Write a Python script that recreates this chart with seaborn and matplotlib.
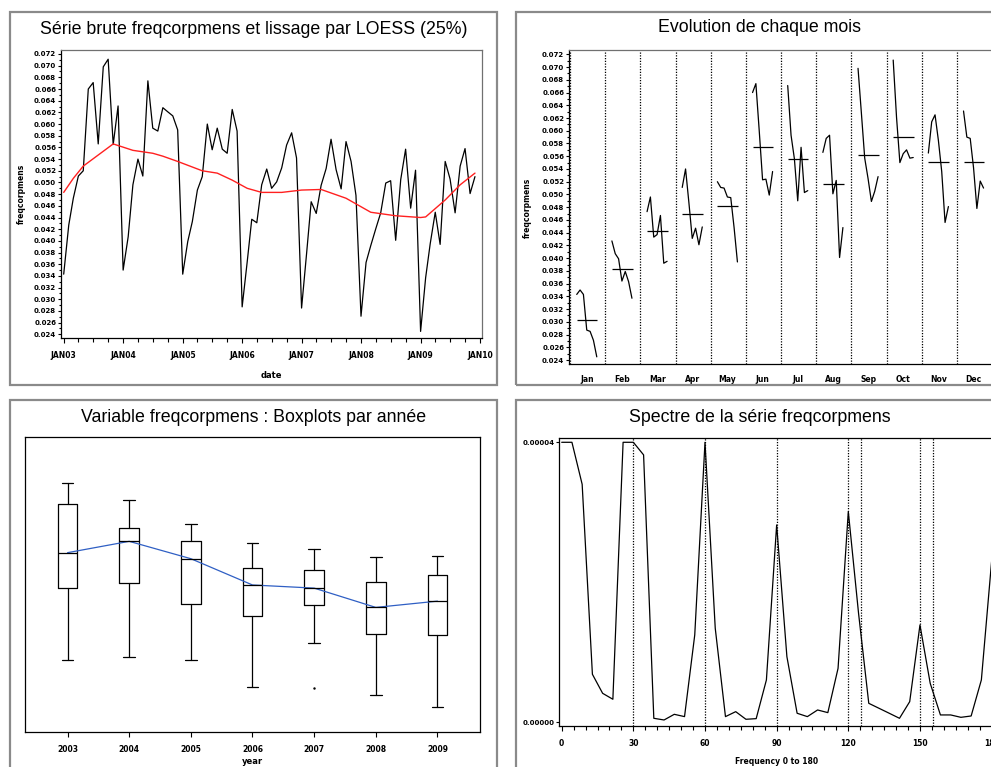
import numpy as np
import pandas as pd
import matplotlib
matplotlib.use('Agg')
import matplotlib.pyplot as plt
import matplotlib.dates as mdates
from matplotlib.patches import Rectangle
from matplotlib.ticker import MultipleLocator, FuncFormatter
import seaborn as sns

# ---- donnees ----
years = [2003, 2004, 2005, 2006, 2007, 2008, 2009]
month_names = ['Jan', 'Feb', 'Mar', 'Apr', 'May', 'Jun',
               'Jul', 'Aug', 'Sep', 'Oct', 'Nov', 'Dec']
v2003 = [0.0343, 0.0427, 0.0473, 0.0511, 0.0520, 0.0660, 0.0671, 0.0566, 0.0698, 0.0711, 0.0565, 0.0631]
v2004 = [0.0350, 0.0407, 0.0496, 0.0540, 0.0511, 0.0674, 0.0593, 0.0588, 0.0628, 0.0621, 0.0614, 0.0590]
v2005 = [0.0343, 0.0399, 0.0433, 0.0487, 0.0510, 0.0600, 0.0556, 0.0593, 0.0557, 0.0550, 0.0625, 0.0588]
v2006 = [0.0287, 0.0364, 0.0437, 0.0431, 0.0496, 0.0523, 0.0490, 0.0501, 0.0525, 0.0564, 0.0585, 0.0542]
v2007 = [0.0285, 0.0379, 0.0467, 0.0447, 0.0495, 0.0524, 0.0574, 0.0522, 0.0489, 0.0570, 0.0536, 0.0478]
v2008 = [0.0271, 0.0363, 0.0392, 0.0421, 0.0448, 0.0499, 0.0503, 0.0401, 0.0505, 0.0557, 0.0456, 0.0521]
v2009 = [0.0245, 0.0337, 0.0395, 0.0449, 0.0394, 0.0536, 0.0506, 0.0448, 0.0528, 0.0558, 0.0481, 0.0510]

# lissage LOESS (25%) : mois (0 = JAN03) et valeur
loess_months = [0, 2, 4, 10, 14, 18, 20, 23, 28, 31, 34, 37, 40, 44, 48, 52, 57, 62, 67, 72, 73, 77, 80, 83]
loess_values = [0.0483, 0.0507, 0.0528, 0.0566, 0.0555, 0.0550, 0.0545, 0.0536, 0.0520, 0.0516,
                0.0504, 0.0490, 0.0483, 0.0483, 0.0487, 0.0488, 0.0473, 0.0449, 0.0443, 0.0440,
                0.0441, 0.0470, 0.0496, 0.0516]

# spectre (frequence 0 a 180)
spec_freq = [0, 4.29, 8.57, 12.86, 17.14, 21.43, 25.71, 30, 34.29, 38.57, 42.86, 47.14, 51.43,
             55.71, 60, 64.29, 68.57, 72.86, 77.14, 81.43, 85.71, 90, 94.29, 98.57, 102.86,
             107.14, 111.43, 115.71, 120, 124.29, 128.57, 132.86, 137.14, 141.43, 145.71, 150,
             154.29, 158.57, 162.86, 167.14, 171.43, 175.71, 180]
spec_values = [4.0, 4.0, 3.40, 0.686, 0.414, 0.329, 4.0, 4.0, 3.82, 0.057, 0.033, 0.114, 0.081,
               1.248, 4.0, 1.343, 0.081, 0.152, 0.043, 0.052, 0.605, 2.819, 0.938, 0.129, 0.081,
               0.176, 0.138, 0.771, 3.01, 1.557, 0.271, 0.2, 0.129, 0.057, 0.295, 1.39, 0.557,
               0.105, 0.105, 0.071, 0.09, 0.605, 2.3]
spec_refs = [30, 60, 90, 120, 125.3, 150, 155.5]

date_labels = ['JAN03', 'JAN04', 'JAN05', 'JAN06', 'JAN07', 'JAN08', 'JAN09', 'JAN10']

# ---- mise en forme des donnees ----
by_year = [v2003, v2004, v2005, v2006, v2007, v2008, v2009]
dates = pd.date_range('2003-01-01', periods=84, freq='MS')
serie = pd.DataFrame({'date': dates, 'freqcorpmens': np.concatenate(by_year)})
loess = pd.DataFrame({'date': dates[loess_months], 'val': loess_values})

rows = []
for j, vals in enumerate(by_year):
    for m, v in enumerate(vals):
        rows.append({'month': m, 'year': years[j], 'pos': m + 0.19 + 0.095 * j, 'val': v})
cycle = pd.DataFrame(rows)
month_means = cycle.groupby('month')['val'].mean()

spec = pd.DataFrame({'freq': spec_freq, 'power': np.array(spec_values) * 1e-5})

# ---- figure ----
sns.set_style('ticks')
plt.rcParams['font.family'] = ['DejaVu Sans']
plt.rcParams['font.weight'] = 'bold'
plt.rcParams['text.color'] = 'black'
W, H = 991, 767
fig = plt.figure(figsize=(W / 100, H / 100), dpi=100)


def px_axes(x0, y0, x1, y1):
    return fig.add_axes([x0 / W, 1 - y1 / H, (x1 - x0) / W, (y1 - y0) / H])


def px_text(x, y, s, **kw):
    fig.text(x / W, 1 - y / H, s, ha='center', va='center', color='black', **kw)


def frame(x0, y0, x1, y1):
    fig.patches.append(Rectangle((x0 / W, 1 - y1 / H), (x1 - x0) / W, (y1 - y0) / H,
                                 transform=fig.transFigure, fill=False,
                                 ec='#8a8a8a', lw=1.6))


title_kw = dict(fontsize=12.8, family='Liberation Sans', fontweight='normal')
for box in [(10, 12, 497, 385), (516, 12, 1003, 385), (10, 400, 497, 790), (516, 400, 1003, 790)]:
    frame(*box)

# 1. serie brute + LOESS
ax1 = px_axes(61, 50, 482.3, 338.3)
sns.lineplot(data=serie, x='date', y='freqcorpmens', color='black', lw=0.9, ax=ax1)
sns.lineplot(data=loess, x='date', y='val', color='#ff2020', lw=1.0, ax=ax1)
ax1.set_ylim(0.02332, 0.07268)
ax1.set_xlim(pd.Timestamp('2003-01-01') - pd.Timedelta(days=16.6),
             pd.Timestamp('2010-01-01') + pd.Timedelta(days=14))
ax1.yaxis.set_major_locator(MultipleLocator(0.002))
ax1.yaxis.set_minor_locator(MultipleLocator(0.001))
ax1.yaxis.set_major_formatter(FuncFormatter(lambda v, p: f'{v:.3f}'))
ax1.set_xticks(pd.date_range('2003-01-01', periods=8, freq='YS'))
ax1.set_xticklabels(date_labels)
ax1.xaxis.set_minor_locator(mdates.MonthLocator(bymonth=[4, 7, 10]))
ax1.set_xlabel('')
ax1.set_ylabel('')
px_text(253.5, 29, 'Série brute freqcorpmens et lissage par LOESS (25%)', **title_kw)
px_text(21, 194, 'freqcorpmens', rotation=90, fontsize=5.5)
px_text(271.5, 376, 'date', fontsize=6)

# 2. evolution de chaque mois
ax2 = px_axes(569, 50, 992, 364.3)
sns.lineplot(data=cycle, x='pos', y='val', units='month', estimator=None,
             color='black', lw=0.9, ax=ax2)
for m in range(12):
    ax2.hlines(month_means[m], m + 0.19, m + 0.78, color='black', lw=0.9)
for m in range(13):
    ax2.axvline(m, color='black', lw=0.9, ls=(0, (1, 1.2)))
ax2.set_xlim(-0.03, 12.0)
ax2.set_ylim(0.02333, 0.07268)
ax2.yaxis.set_major_locator(MultipleLocator(0.002))
ax2.yaxis.set_minor_locator(MultipleLocator(0.001))
ax2.yaxis.set_major_formatter(FuncFormatter(lambda v, p: f'{v:.3f}'))
ax2.set_xticks([m + 0.48 for m in range(12)])
ax2.set_xticklabels(month_names)
ax2.set_xlabel('')
ax2.set_ylabel('')
px_text(760, 28, 'Evolution de chaque mois', **title_kw)
px_text(527.5, 207.5, 'freqcorpmens', rotation=90, fontsize=5.5)


# 3. boxplots par annee (quartiles definition SAS 5)
def sas_q(x, p):
    x = np.sort(x)
    k = len(x) * p
    j = int(np.floor(k))
    if k - j == 0:
        return (x[j - 1] + x[j]) / 2
    return x[j]


stats = []
for vals in by_year:
    x = np.array(vals)
    q1, med, q3 = sas_q(x, 0.25), sas_q(x, 0.5), sas_q(x, 0.75)
    iqr = q3 - q1
    lo, hi = q1 - 1.5 * iqr, q3 + 1.5 * iqr
    inside = x[(x >= lo) & (x <= hi)]
    stats.append(dict(med=med, q1=q1, q3=q3, whislo=inside.min(), whishi=inside.max(),
                      fliers=x[(x < lo) | (x > hi)]))
medians = pd.DataFrame({'pos': range(7), 'med': [s['med'] for s in stats]})

ax3 = px_axes(25, 436.7, 480, 732.3)
line_kw = dict(color='black', lw=0.9)
ax3.bxp(stats, positions=range(7), widths=0.32, capwidths=0.19, manage_ticks=False,
        boxprops=line_kw, medianprops=line_kw, whiskerprops=line_kw, capprops=line_kw,
        flierprops=dict(marker='.', ms=1.5, mfc='black', mec='black'))
sns.lineplot(data=medians, x='pos', y='med', color='#2f5fc4', lw=0.9, ax=ax3)
ax3.set_xlim(-0.69, 6.69)
ax3.set_ylim(0.0193, 0.0806)
ax3.set_xticks(range(7))
ax3.set_xticklabels([str(y) for y in years])
ax3.set_yticks([])
ax3.set_xlabel('')
ax3.set_ylabel('')
px_text(253.5, 417, 'Variable freqcorpmens : Boxplots par année', **title_kw)
px_text(252.5, 761.5, 'year', fontsize=6)

# 4. spectre
ax4 = px_axes(559.3, 438.3, 994, 726)
sns.lineplot(data=spec, x='freq', y='power', color='black', lw=0.9, ax=ax4)
for f in spec_refs:
    ax4.axvline(f, color='black', lw=0.9, ls=(0, (1, 1.2)))
ax4.set_xlim(-1.0, 181)
ax4.set_ylim(-0.053e-5, 4.057e-5)
ax4.set_yticks([0, 4e-5])
ax4.set_yticklabels(['0.00000', '0.00004'])
ax4.xaxis.set_major_locator(MultipleLocator(30))
ax4.xaxis.set_minor_locator(MultipleLocator(5))
ax4.set_xlabel('')
ax4.set_ylabel('')
px_text(777, 761.5, 'Frequency 0 to 180', fontsize=5.5)
px_text(760, 417, 'Spectre de la série freqcorpmens', **title_kw)

# styles communs des axes
for ax in [ax1, ax2, ax3, ax4]:
    for s in ax.spines.values():
        s.set_visible(True)
        s.set_color('black')
        s.set_linewidth(0.9)
    ax.tick_params(which='both', direction='out', width=0.8, colors='black')
    ax.tick_params(axis='y', which='major', length=2.5, labelsize=5, pad=1)
    ax.tick_params(axis='y', which='minor', length=1.5)
    ax.tick_params(axis='x', which='major', length=3.5, labelsize=5.5, pad=6)
    ax.tick_params(axis='x', which='minor', length=3.0)
    for lab in ax.get_xticklabels() + ax.get_yticklabels():
        lab.set_fontweight('bold')
ax2.tick_params(axis='x', length=0, pad=8)
for ax in [ax1, ax2]:
    ax.spines['top'].set_color('#707070')
    ax.spines['right'].set_color('#707070')

fig.savefig('out.png', dpi=100, facecolor='white')
